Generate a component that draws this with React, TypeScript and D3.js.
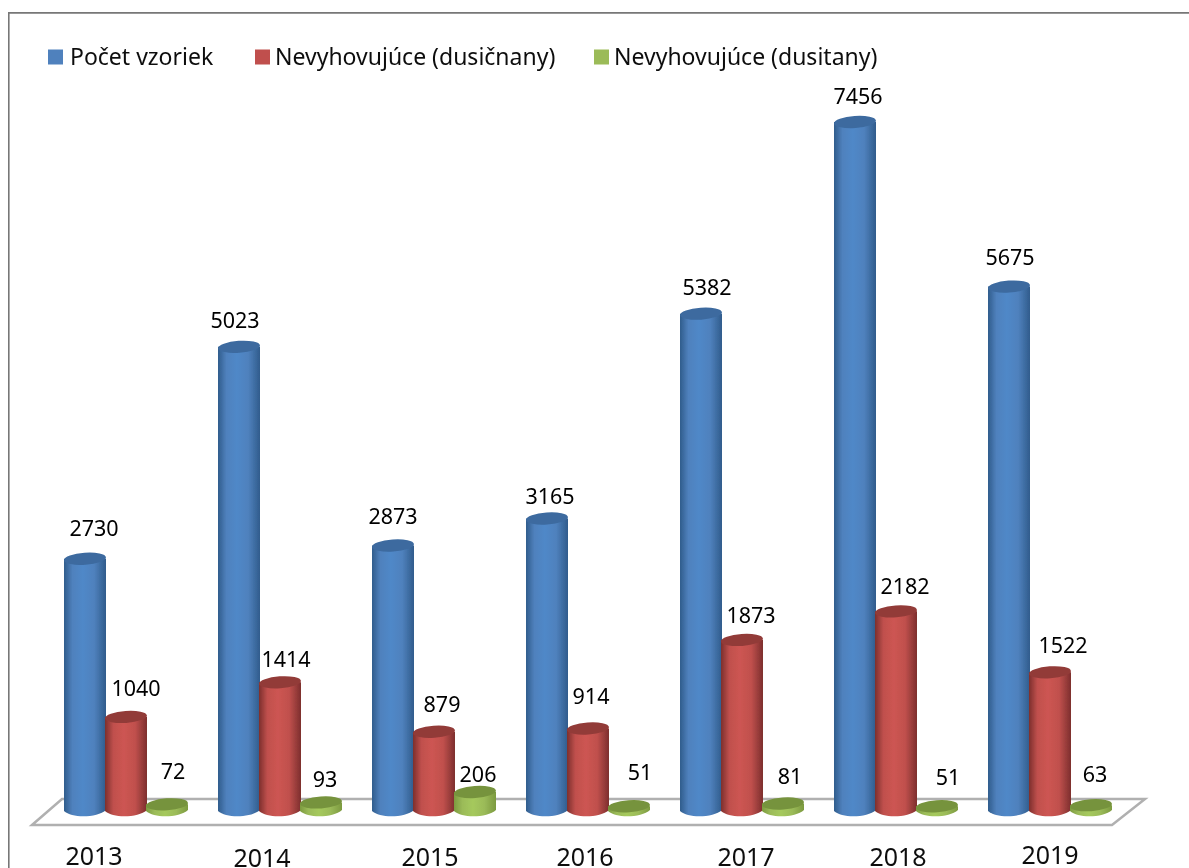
import React from "react";
import * as d3 from "d3";

const years = ["2013", "2014", "2015", "2016", "2017", "2018", "2019"];
const seriesNames = ["Počet vzoriek", "Nevyhovujúce (dusičnany)", "Nevyhovujúce (dusitany)"];
const vzorky = [2730, 5023, 2873, 3165, 5382, 7456, 5675];
const dusicnany = [1040, 1414, 879, 914, 1873, 2182, 1522];
const dusitany = [72, 93, 206, 51, 81, 51, 63];

// layout-only nudges for the hand-placed labels of the original [dx, gap above top]
const blueNudge = [[9, 31], [-4, 27], [0, 30], [3, 23], [6, 27], [3, 26], [1, 30]];
const redNudge = [[10, 29], [6, 23], [8, 28], [3, 33], [9, 25], [9, 25], [13, 27]];
const greenNudge = [[6, 33], [4, 23], [3, 18], [11, 34], [7, 28], [11, 29], [4, 31]];
const yearPos = [[94, 856], [262, 858], [430, 857], [585, 857], [746, 857], [898, 857], [1050, 855]];

const W = 1189, H = 868;
const FONT = "'Noto Sans', sans-serif";
const BASE = 811;
const RX = 21, RY = 6, TILT = -4;
const topShift = [0, 2, 0];

const x0 = d3.scaleBand<string>().domain(years).range([64, 64 + 154 * 7]).paddingInner(0).paddingOuter(0);
const x1 = d3.scaleLinear().domain([0, 1]).range([0, 41]);
const y = d3.scaleLinear().domain([0, 7456]).range([BASE, 122]);

const palettes = [
  { id: "b", dark: "#305c8c", mid: "#4f81bd", hi: "#5088c8", top: "#3c6a9f", sw: "#4f81bd" },
  { id: "r", dark: "#7d2f2d", mid: "#c0504d", hi: "#cd5552", top: "#923b39", sw: "#c0504d" },
  { id: "g", dark: "#7c9a3f", mid: "#9bbb59", hi: "#a5c95c", top: "#76933c", sw: "#9bbb59" },
];
const allSeries = [
  { values: vzorky, nudge: blueNudge },
  { values: dusicnany, nudge: redNudge },
  { values: dusitany, nudge: greenNudge },
];

function Cylinder({ cx, top, pal }: { cx: number; top: number; pal: (typeof palettes)[number] }) {
  const body = d3.path();
  body.moveTo(cx - RX, top);
  body.lineTo(cx - RX, BASE);
  body.bezierCurveTo(cx - RX * 0.6, BASE + RY * 1.3, cx + RX * 0.6, BASE + RY * 1.1, cx + RX, BASE - 1);
  body.lineTo(cx + RX, top);
  body.closePath();
  return (
    <g>
      <path d={body.toString()} fill={`url(#grad-${pal.id})`} />
      <ellipse cx={cx} cy={top} rx={RX} ry={RY} fill={pal.top} transform={`rotate(${TILT} ${cx} ${top})`} />
    </g>
  );
}

export default function App() {
  const floor = d3.line()([[32, 825], [62, 799], [1145, 799], [1112, 825]]) + "Z";
  const legendX = [[48, 70], [255, 275], [594, 614]];
  return (
    <svg width={W} height={H} viewBox={`0 0 ${W} ${H}`}
      style={{ position: "absolute", left: 0, top: 0, display: "block", background: "#fff" }}>
      <defs>
        {palettes.map((p) => (
          <linearGradient key={p.id} id={`grad-${p.id}`} x1="0" x2="1" y1="0" y2="0">
            <stop offset="0" stopColor={p.dark} />
            <stop offset="0.2" stopColor={p.mid} />
            <stop offset="0.45" stopColor={p.hi} />
            <stop offset="0.72" stopColor={p.mid} />
            <stop offset="1" stopColor={p.dark} />
          </linearGradient>
        ))}
        <filter id="soft" x="0" y="0" width="100%" height="100%">
          <feGaussianBlur stdDeviation="0.4" />
        </filter>
      </defs>
      <g filter="url(#soft)">
        <path d={`M8.3,${H} L8.3,12.5 L${W},12.5`} fill="none" stroke="#777" strokeWidth={2.6} />
        <path d={floor} fill="#fff" stroke="#b0b0b0" strokeWidth={2.5} />
        {seriesNames.map((name, i) => (
          <g key={name}>
            <rect x={legendX[i][0]} y={49.5} width={15} height={15} fill={palettes[i].sw} />
            <text x={legendX[i][1]} y={65} fontFamily={FONT} fontSize={23} fill="#111">{name}</text>
          </g>
        ))}
        {years.map((yr, c) => (
          <g key={yr}>
            {allSeries.map((s, k) => {
              const cx = (x0(yr) as number) + x1(k) + RX;
              return <Cylinder key={k} cx={cx} top={y(s.values[c]) + topShift[k]} pal={palettes[k]} />;
            })}
            {allSeries.map((s, k) => {
              const cx = (x0(yr) as number) + x1(k) + RX;
              const [dx, gap] = s.nudge[c];
              return (
                <text key={k} x={cx + dx} y={y(s.values[c]) + topShift[k] - gap + 8} textAnchor="middle"
                  fontFamily={FONT} fontSize={21.5} fill="#000">{s.values[c]}</text>
              );
            })}
            <text x={yearPos[c][0]} y={yearPos[c][1] + 9} textAnchor="middle"
              fontFamily={FONT} fontSize={25} fill="#111">{yr}</text>
          </g>
        ))}
      </g>
    </svg>
  );
}
